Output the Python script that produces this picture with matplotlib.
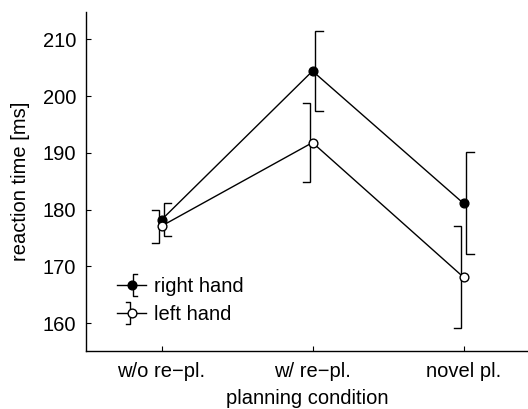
import matplotlib
matplotlib.use("Agg")
import matplotlib.pyplot as plt
from matplotlib.legend_handler import HandlerBase
from matplotlib.lines import Line2D

plt.rcParams['font.family'] = ['Liberation Sans', 'DejaVu Sans']

categories = ["w/o re\u2212pl.", "w/ re\u2212pl.", "novel pl."]
right_mean = [178.2, 204.4, 181.1]
right_err = [2.9, 7.0, 9.0]
left_mean = [177.1, 191.8, 168.1]
left_err = [2.9, 7.0, 9.0]
series_labels = ["right hand", "left hand"]
yticks = [160, 170, 180, 190, 200, 210]

W, H, DPI = 5.28, 4.09, 100
FS = 14.5
fig = plt.figure(figsize=(W, H), dpi=DPI)
ax_left, ax_bottom = 86 / 528, 58 / 409
ax_w, ax_h = 1 - ax_left, (351 - 12) / 409
ax = fig.add_axes([ax_left, ax_bottom, ax_w, ax_h])
xlim = (0.5, 0.5 + (528 - 86) / 151)
ax.set_xlim(*xlim)
ax.set_ylim(155.1, 214.8)

x = list(range(1, len(categories) + 1))
px_per_unit = W * DPI * ax_w / (xlim[1] - xlim[0])
off = 2.5 / px_per_unit
cap = 7.5 / px_per_unit

lw = 1.0
ms = 6.3


def bracket(xc, m, e, side):
    xv = xc + side * off
    xs = [xv + side * cap, xv, xv, xv + side * cap]
    ys = [m + e, m + e, m - e, m - e]
    ax.plot(xs, ys, color='black', lw=lw, zorder=2, solid_joinstyle='miter')


ax.plot(x, right_mean, color='black', lw=lw, zorder=1)
ax.plot(x, left_mean, color='black', lw=lw, zorder=1)
for xc, m, e in zip(x, right_mean, right_err):
    bracket(xc, m, e, +1)
for xc, m, e in zip(x, left_mean, left_err):
    bracket(xc, m, e, -1)
ax.plot(x, right_mean, 'o', ms=ms, mfc='black', mec='black', mew=lw, zorder=3)
ax.plot(x, left_mean, 'o', ms=ms, mfc='white', mec='black', mew=lw, zorder=3)

ax.set_xticks(x)
ax.set_xticklabels(categories)
ax.set_yticks(yticks)
ax.tick_params(direction='in', length=3.5, width=0.8, labelsize=FS, colors='black')
ax.tick_params(axis='y', pad=7)
ax.tick_params(axis='x', pad=8)
ax.spines['top'].set_visible(False)
ax.spines['right'].set_visible(False)
for s in ('left', 'bottom'):
    ax.spines[s].set_linewidth(1.0)
ax.set_xlabel("planning condition", fontsize=FS, labelpad=6)
ax.set_ylabel("reaction time [ms]", fontsize=FS, labelpad=9)


class HandlerBracket(HandlerBase):
    def __init__(self, filled, side, **kw):
        super().__init__(**kw)
        self.filled = filled
        self.side = side

    def create_artists(self, legend, orig_handle, xdescent, ydescent,
                       width, height, fontsize, trans):
        yc = height / 2 - ydescent
        x0, x1 = -xdescent, width - xdescent
        xm = (x0 + x1) / 2
        ln = Line2D([x0, x1], [yc, yc], color='black', lw=lw, transform=trans)
        hh = 8.0
        c = 2.9
        xv = xm + self.side * 1.2
        br = Line2D([xv + self.side * c, xv, xv, xv + self.side * c],
                    [yc + hh, yc + hh, yc - hh, yc - hh],
                    color='black', lw=lw, transform=trans)
        mk = Line2D([xm], [yc], marker='o', ms=ms, mec='black', mew=lw,
                    mfc='black' if self.filled else 'white', ls='none',
                    transform=trans)
        return [ln, br, mk]


h1 = Line2D([], [], color='black')
h2 = Line2D([], [], color='black', ls='--')
leg = ax.legend([h1, h2], series_labels,
                handler_map={h1: HandlerBracket(True, +1), h2: HandlerBracket(False, -1)},
                loc='lower left', bbox_to_anchor=(0.07, 0.08), frameon=False,
                fontsize=FS, handlelength=1.45, handletextpad=0.38, labelspacing=0.45,
                borderaxespad=0, borderpad=0)

fig.savefig("out.png", dpi=DPI)
